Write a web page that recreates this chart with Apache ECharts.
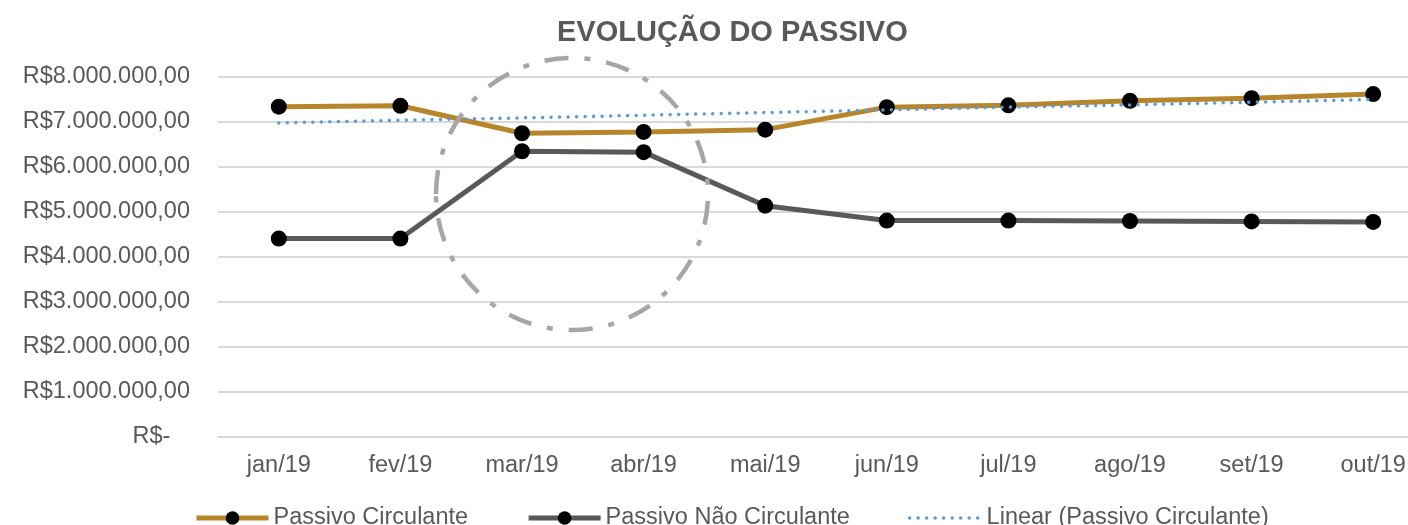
<!DOCTYPE html>
<html>
<head>
<meta charset="utf-8">
<script src="https://cdn.jsdelivr.net/npm/echarts@6/dist/echarts.min.js"></script>
<style>
  html, body { margin: 0; padding: 0; background: #fff; overflow: hidden; }
  /* área do gráfico passa um pouco da janela, como no original recortado */
  #main { width: 1434px; height: 525px; }
</style>
</head>
<body>
<div id="main"></div>
<script>
// dados (R$)
var meses = ['jan/19', 'fev/19', 'mar/19', 'abr/19', 'mai/19', 'jun/19', 'jul/19', 'ago/19', 'set/19', 'out/19'];
var passivoCirculante = [7340000, 7360000, 6750000, 6780000, 6830000, 7330000, 7370000, 7470000, 7530000, 7620000];
var passivoNaoCirculante = [4410000, 4410000, 6350000, 6330000, 5140000, 4810000, 4810000, 4800000, 4790000, 4780000];
var linearCirculante = [6980000, 7040000, 7090000, 7150000, 7210000, 7270000, 7330000, 7380000, 7440000, 7500000];

var FONTE = 'Liberation Sans, Arial, sans-serif';
var OURO = '#B8862A', CINZA = '#595959', AZUL = '#5B9BD5';

function formatReal(v) {
    if (v === 0) return 'R$-   ';
    var s = String(Math.round(v)).replace(/\B(?=(\d{3})+(?!\d))/g, '.');
    return 'R$' + s + ',00';
}

var myChart = echarts.init(document.getElementById('main'));

var option = {
    animation: false,
    backgroundColor: '#fff',
    title: {
        text: 'EVOLUÇÃO DO PASSIVO',
        left: 552,
        top: 13,
        textStyle: { fontFamily: FONTE, fontSize: 29, fontWeight: 'bold', color: '#595959' }
    },
    legend: {
        left: 189,
        top: 501,
        itemWidth: 72,
        itemHeight: 17,
        itemGap: 58,
        textStyle: { fontFamily: FONTE, fontSize: 23.5, color: '#595959' },
        data: [
            { name: 'Passivo Circulante', lineStyle: { color: OURO, width: 5 }, itemStyle: { color: '#000' } },
            { name: 'Passivo Não Circulante', lineStyle: { color: CINZA, width: 5 }, itemStyle: { color: '#000' } },
            { name: 'Linear (Passivo Circulante)', lineStyle: { color: AZUL, width: 3.5, type: [0.01, 8.5], cap: 'round' }, itemStyle: { color: 'rgba(0,0,0,0)' } }
        ]
    },
    grid: {
        left: 218,
        top: 77,
        right: 0,
        height: 360
    },
    xAxis: {
        type: 'category',
        data: meses,
        axisLine: { lineStyle: { color: '#d9d9d9', width: 2 } },
        axisTick: { show: false },
        axisLabel: { fontFamily: FONTE, fontSize: 23.5, color: '#595959', margin: 17 }
    },
    yAxis: {
        type: 'value',
        min: 0,
        max: 8000000,
        interval: 1000000,
        axisLine: { show: false },
        axisTick: { show: false },
        splitLine: { lineStyle: { color: '#d9d9d9', width: 2 } },
        axisLabel: { fontFamily: FONTE, fontSize: 23.5, color: '#595959', margin: 28, formatter: formatReal }
    },
    series: [
        {
            name: 'Passivo Circulante',
            type: 'line',
            data: passivoCirculante,
            symbol: 'circle',
            symbolSize: 16,
            itemStyle: { color: '#000' },
            lineStyle: { color: OURO, width: 5 },
            z: 3
        },
        {
            name: 'Passivo Não Circulante',
            type: 'line',
            data: passivoNaoCirculante,
            symbol: 'circle',
            symbolSize: 16,
            itemStyle: { color: '#000' },
            lineStyle: { color: CINZA, width: 5 },
            z: 3
        },
        {
            name: 'Linear (Passivo Circulante)',
            type: 'line',
            data: linearCirculante,
            symbol: 'none',
            itemStyle: { color: AZUL },
            lineStyle: { color: AZUL, width: 3.5, type: [0.01, 8.5], cap: 'round' },
            z: 4
        }
    ],
    // destaque tracejado em volta de mar/abr
    graphic: [{
        type: 'ellipse',
        z: 100,
        shape: { cx: 572, cy: 194, rx: 136, ry: 136 },
        style: { fill: null, stroke: '#A6A6A6', lineWidth: 4.5, lineDash: [24, 16, 6, 16] }
    }]
};

myChart.setOption(option);
</script>
</body>
</html>
